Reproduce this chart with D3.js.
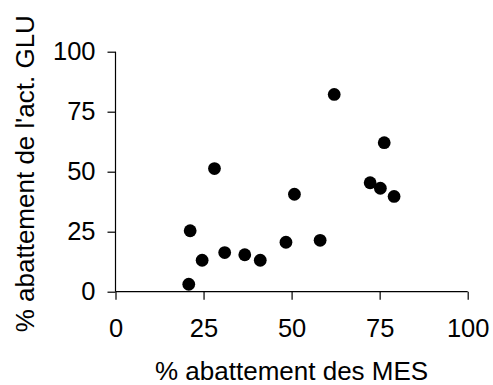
<!DOCTYPE html>
<html>
<head>
<meta charset="utf-8">
<script src="https://cdn.jsdelivr.net/npm/d3@7"></script>
<style>
  html, body { margin: 0; padding: 0; background: #fff; }
  svg { display: block; }
  text { font-family: Arial, "Liberation Sans", sans-serif; fill: #000; }
</style>
</head>
<body>
<svg id="chart" width="493" height="385"></svg>
<script>
// % abatement of suspended solids (MES) vs % abatement of GLU activity
const mesAbatement = [20.8, 21.2, 24.6, 28.1, 31.0, 36.7, 41.1, 48.4, 50.8, 58.1, 62.1, 72.3, 75.2, 76.3, 79.1];
const gluAbatement = [3.1, 25.4, 13.1, 51.3, 16.3, 15.4, 13.1, 20.6, 40.6, 21.4, 82.2, 45.4, 43.1, 62.1, 39.7];
const xTicks = [0, 25, 50, 75, 100];
const yTicks = [0, 25, 50, 75, 100];
const xTitle = "% abattement des MES";
const yTitle = "% abattement de l'act. GLU";

const svg = d3.select("#chart");
const plotLeft = 115.5, plotRight = 467.7, plotTop = 51.7, plotBottom = 291.7;

const x = d3.scaleLinear().domain([0, 100]).range([plotLeft, plotRight]);
const y = d3.scaleLinear().domain([0, 100]).range([plotBottom, plotTop]);

const xAxis = svg.append("g")
  .attr("transform", `translate(0,${plotBottom})`)
  .call(d3.axisBottom(x).tickValues(xTicks).tickSize(8).tickPadding(19).tickFormat(d3.format("d")));
const yAxis = svg.append("g")
  .attr("transform", `translate(${plotLeft},0)`)
  .call(d3.axisLeft(y).tickValues(yTicks).tickSize(8).tickPadding(12).tickFormat(d3.format("d")));

[xAxis, yAxis].forEach(g => {
  g.attr("font-size", null).attr("font-family", null);
  g.select(".domain").attr("stroke", "#000").attr("stroke-width", 1.2);
  g.selectAll(".tick line").attr("stroke", "#000").attr("stroke-width", 1.2);
  g.selectAll(".tick text").attr("font-size", 25.5).attr("fill", "#000");
});
// domain lines without outer end-caps
xAxis.select(".domain").attr("d", `M${plotLeft},0H${plotRight}`);
yAxis.select(".domain").attr("d", `M0,${plotBottom}V${plotTop}`);

const points = mesAbatement.map((v, i) => ({ x: v, y: gluAbatement[i] }));
svg.append("g").selectAll("circle")
  .data(points)
  .join("circle")
  .attr("cx", d => x(d.x))
  .attr("cy", d => y(d.y))
  .attr("r", 6.4)
  .attr("fill", "#000");

svg.append("text")
  .attr("x", (plotLeft + plotRight) / 2)
  .attr("y", 380)
  .attr("text-anchor", "middle")
  .attr("font-size", 26)
  .text(xTitle);

svg.append("text")
  .attr("transform", `translate(33.5,${(plotTop + plotBottom) / 2 + 2}) rotate(-90)`)
  .attr("text-anchor", "middle")
  .attr("font-size", 26)
  .text(yTitle);
</script>
</body>
</html>
